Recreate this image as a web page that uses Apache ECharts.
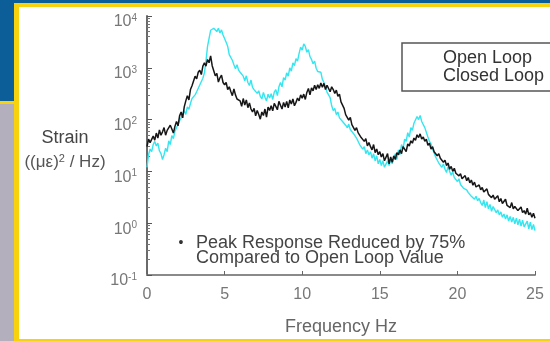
<!DOCTYPE html>
<html>
<head>
<meta charset="utf-8">
<script src="https://cdn.jsdelivr.net/npm/echarts@6/dist/echarts.min.js"></script>
<style>
  html, body { margin: 0; padding: 0; background: #ffffff; }
  #chart { width: 550px; height: 341px; }
</style>
</head>
<body>
<div id="chart"></div>
<script>
// Strain power spectral density, sampled every 0.1 Hz from 0 to 25 Hz
const freqStep = 0.1;

// Open loop response, (micro-strain)^2 / Hz
const openLoop = [
  12, 21, 27, 24, 33, 38, 31, 35, 25, 22,
  17, 21, 28, 24, 39, 33, 49, 43, 60, 70,
  80, 95, 108, 102, 148, 126, 176, 158, 205, 255,
  245, 300, 345, 325, 465, 430, 630, 800, 1350, 2600,
  3700, 5300, 4900, 5800, 6000, 5000, 5800, 4700, 5400, 4300,
  4100, 3100, 2600, 1800, 1950, 1400, 1150, 960, 1150, 900,
  820, 860, 690, 560, 700, 520, 455, 580, 420, 380,
  410, 320, 360, 280, 250, 335, 270, 230, 310, 260,
  315, 245, 340, 380, 290, 430, 520, 430, 650, 580,
  800, 690, 1000, 860, 1250, 1100, 1500, 1350, 1900, 2500,
  2200, 2900, 2600, 2000, 2250, 1650, 1450, 1200, 1350, 980,
  850, 780, 820, 600, 520, 430, 340, 300, 265, 185,
  150, 165, 125, 140, 108, 118, 92, 100, 78, 70,
  82, 64, 68, 54, 54, 44, 42, 33, 34, 27,
  30, 22, 26, 21, 24, 18, 22, 16, 20, 14,
  17, 13, 16, 12, 11.5, 16, 13, 17, 14, 18,
  22, 17, 26, 21, 33, 27, 42, 38, 56, 46,
  70, 62, 85, 78, 115, 100, 120, 92, 100, 70,
  65, 46, 38, 34, 27, 25, 19, 18.5, 14.5, 15.5,
  12, 14, 11, 9.5, 12.5, 10, 8.4, 9.8, 7.6, 8.2,
  6.4, 7.2, 5.6, 6.0, 4.7, 5.1, 4.4, 3.9, 4.0, 3.3,
  3.6, 2.9, 3.3, 2.7, 3.0, 2.5, 2.2, 2.8, 2.0, 2.6,
  1.9, 2.3, 1.7, 2.1, 1.95, 1.6, 1.8, 1.45, 1.65, 1.3,
  1.5, 1.2, 1.45, 1.1, 1.35, 1.05, 1.3, 0.97, 1.25, 0.93,
  1.2, 0.88, 1.15, 0.85, 0.82, 1.1, 0.78, 1.05, 0.75, 0.95,
  0.72
];

// Closed loop response, (micro-strain)^2 / Hz
const closedLoop = [
  30, 42, 36, 33, 48, 40, 55, 44, 63, 50,
  58, 70, 50, 62, 57, 78, 66, 55, 74, 92,
  76, 118, 140, 108, 176, 230, 290, 240, 380, 450,
  470, 690, 610, 820, 900, 740, 1080, 1250, 1080, 1450,
  1250, 1700, 1100, 880, 700, 780, 530, 640, 720, 520,
  470, 520, 380, 430, 350, 290, 390, 300, 250, 270,
  230, 180, 255, 190, 240, 170, 210, 160, 140, 165,
  118, 150, 125, 102, 140, 120, 160, 112, 175, 150,
  185, 148, 205, 180, 155, 225, 190, 160, 215, 175,
  225, 168, 240, 200, 250, 185, 215, 260, 230, 300,
  260, 310, 245, 335, 400, 300, 410, 360, 460, 380,
  470, 400, 510, 420, 500, 380, 460, 500, 345, 430,
  380, 320, 370, 280, 310, 220, 225, 165, 125, 130,
  98, 110, 80, 84, 62, 70, 56, 52, 45, 47,
  38, 43, 31, 36, 30, 26, 33, 23, 27, 21,
  24, 19, 22, 16, 17, 22, 14, 19, 15, 20,
  17, 23, 21, 26, 22, 30, 28, 24, 34, 31,
  39, 35, 44, 40, 51, 45, 53, 42, 46, 38,
  42, 32, 35, 27, 30, 24, 26, 20, 22, 18,
  19, 15, 16.5, 13, 14.5, 11, 12.5, 10, 11.5, 9.2,
  9.6, 8.2, 9.0, 7.2, 7.0, 8.3, 6.6, 7.6, 6.0, 6.8,
  5.4, 6.2, 5.0, 4.6, 5.5, 4.4, 4.9, 4.0, 3.8, 4.6,
  3.6, 3.9, 3.1, 3.5, 2.9, 2.8, 3.4, 2.6, 3.0, 2.4,
  2.6, 2.9, 2.2, 2.4, 2.0, 2.5, 1.9, 2.1, 2.2, 1.75,
  1.9, 2.05, 1.6, 1.75, 1.5, 1.95, 1.45, 1.6, 1.3, 1.55,
  1.25
];

const seriesNames = ['Open Loop', 'Closed Loop'];
const xTicks = [0, 5, 10, 15, 20, 25];
const yRange = [0.1, 10000];
const noteLines = ['Peak Response Reduced by 75%', 'Compared to Open Loop Value'];

function toPairs(values) {
  return values.map((v, i) => [Math.round(i * freqStep * 10) / 10, v]);
}

const FONT = '"Liberation Sans", Arial, sans-serif';
const chart = echarts.init(document.getElementById('chart'), null, { renderer: 'canvas' });

chart.setOption({
  animation: false,
  backgroundColor: '#ffffff',
  grid: { left: 147, right: 15, top: 16, bottom: 57, containLabel: false },
  legend: {
    orient: 'vertical',
    left: 402,
    top: 43,
    align: 'left',
    itemWidth: 0,
    itemHeight: 12,
    itemGap: 0,
    padding: [6, 60, 6, 36],
    borderColor: '#555',
    borderWidth: 1.5,
    backgroundColor: '#fff',
    selectedMode: false,
    textStyle: { fontFamily: FONT, fontSize: 18, color: '#333', lineHeight: 15 },
    data: seriesNames.map(n => ({ name: n, icon: 'none' }))
  },
  xAxis: {
    type: 'value',
    min: xTicks[0],
    max: xTicks[xTicks.length - 1],
    interval: 5,
    splitLine: { show: false },
    axisLine: { lineStyle: { color: '#8a8a8a', width: 2 } },
    axisTick: { inside: true, length: 4, lineStyle: { color: '#666' } },
    axisLabel: { margin: 12, fontFamily: FONT, fontSize: 16, color: '#777' },
    name: 'Frequency Hz',
    nameLocation: 'middle',
    nameGap: 43,
    nameTextStyle: { fontFamily: FONT, fontSize: 18, color: '#666' }
  },
  yAxis: {
    type: 'log',
    logBase: 10,
    min: yRange[0],
    max: yRange[1],
    splitLine: { show: false },
    axisLine: { show: true, lineStyle: { color: '#6a6a6a', width: 2 } },
    axisTick: { inside: true, length: 5, lineStyle: { color: '#555' } },
    minorTick: { show: true, splitNumber: 9, length: 3, lineStyle: { color: '#777' } },
    axisLabel: {
      margin: 10,
      padding: [12, 0, 0, 0],
      color: '#777',
      formatter: function (v) {
        const e = Math.round(Math.log10(v));
        return '{b|10}{e|' + (e < 0 ? '-' + (-e) : e) + '}';
      },
      rich: {
        b: { fontFamily: FONT, fontSize: 16, color: '#777', lineHeight: 18 },
        e: { fontFamily: FONT, fontSize: 10, color: '#777', verticalAlign: 'top', lineHeight: 18 }
      }
    }
  },
  series: [
    {
      name: seriesNames[0],
      type: 'line',
      data: toPairs(openLoop),
      showSymbol: false,
      lineStyle: { color: '#33e6f0', width: 1.4 },
      itemStyle: { color: '#33e6f0' },
      z: 2
    },
    {
      name: seriesNames[1],
      type: 'line',
      data: toPairs(closedLoop),
      showSymbol: false,
      lineStyle: { color: '#161616', width: 1.5 },
      itemStyle: { color: '#161616' },
      z: 3
    }
  ],
  graphic: [
    // page frame: blue band, grey side panel, yellow rules
    { type: 'rect', z: -10, shape: { x: 0, y: 0, width: 550, height: 4 }, style: { fill: '#0b5e98' } },
    { type: 'rect', z: -10, shape: { x: 0, y: 0, width: 15, height: 101 }, style: { fill: '#0b5e98' } },
    { type: 'rect', z: -10, shape: { x: 0, y: 104, width: 15, height: 237 }, style: { fill: '#b3afbd' } },
    { type: 'rect', z: -9, shape: { x: 15, y: 3, width: 535, height: 4 }, style: { fill: '#f8d20c' } },
    { type: 'rect', z: -9, shape: { x: 14, y: 3, width: 5, height: 338 }, style: { fill: '#f8d20c' } },
    { type: 'rect', z: -9, shape: { x: 0, y: 101, width: 15, height: 3 }, style: { fill: '#f8d20c' } },
    { type: 'rect', z: -9, shape: { x: 18, y: 339, width: 532, height: 2 }, style: { fill: '#f8d20c' } },
    // y-axis title
    {
      type: 'text',
      style: { text: 'Strain', x: 65, y: 138, align: 'center', verticalAlign: 'middle',
               font: '18px "Liberation Sans", Arial, sans-serif', fill: '#444' }
    },
    {
      type: 'text',
      style: {
        text: '{a|((\u03bc\u03b5)}{s|2}{a| / Hz)}',
        x: 65, y: 162, align: 'center', verticalAlign: 'middle',
        rich: {
          a: { fontFamily: FONT, fontSize: 17, fill: '#555', lineHeight: 18 },
          s: { fontFamily: FONT, fontSize: 11, fill: '#555', verticalAlign: 'top', lineHeight: 18 }
        }
      }
    },
    // annotation
    {
      type: 'text',
      style: { text: '\u2022', x: 181, y: 243, align: 'center', verticalAlign: 'middle',
               font: '14px "Liberation Sans", Arial, sans-serif', fill: '#333' }
    },
    {
      type: 'text',
      style: { text: noteLines.join('\n'), x: 196, y: 251, align: 'left', verticalAlign: 'middle',
               lineHeight: 15, font: '18px "Liberation Sans", Arial, sans-serif', fill: '#444' }
    }
  ]
});
</script>
</body>
</html>
